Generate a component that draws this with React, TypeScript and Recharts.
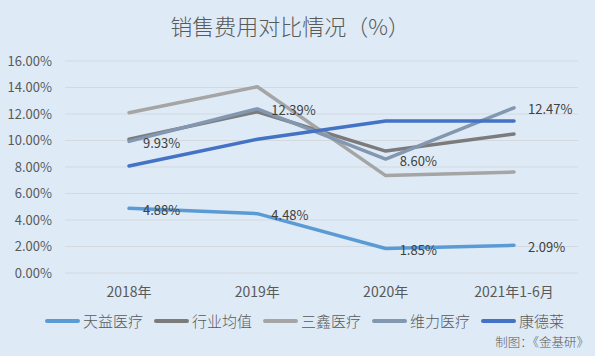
import React from 'react';
import { LineChart, Line, XAxis, YAxis, CartesianGrid, LabelList } from 'recharts';

const categories = ['2018年', '2019年', '2020年', '2021年1-6月'];
const tianyi = [4.88, 4.48, 1.85, 2.09];
const industryAvg = [10.09, 12.17, 9.2, 10.49];
const sanxin = [12.1, 14.06, 7.35, 7.62];
const weili = [9.93, 12.39, 8.6, 12.47];
const kangdelai = [8.08, 10.09, 11.47, 11.47];
const yTicks = [0, 2, 4, 6, 8, 10, 12, 14, 16];

const seriesNames = ['天益医疗', '行业均值', '三鑫医疗', '维力医疗', '康德莱'];
const seriesKeys = ['tianyi', 'industryAvg', 'sanxin', 'weili', 'kangdelai'];
const seriesColors = ['#5B9BD5', '#7B7B7B', '#A5A5A5', '#8497B0', '#4472C4'];

const data = categories.map((c, i) => ({
  name: c,
  tianyi: tianyi[i],
  industryAvg: industryAvg[i],
  sanxin: sanxin[i],
  weili: weili[i],
  kangdelai: kangdelai[i],
}));

const FONT = '"Noto Sans CJK SC", "Noto Sans", sans-serif';

const renderLabel = (props: any) => {
  const { x, y, value } = props;
  return (
    <text
      x={x + 14}
      y={y + 1}
      dominantBaseline="central"
      fontSize={13}
      fontFamily={FONT}
      fill="#404040"
    >
      {Number(value).toFixed(2)}%
    </text>
  );
};

export default function App() {
  return (
    <div
      style={{
        position: 'absolute',
        left: 0,
        top: 0,
        width: 595,
        height: 356,
        background: '#DEEBF7',
        fontFamily: FONT,
        overflow: 'hidden',
      }}
    >
      <div
        style={{
          position: 'absolute',
          left: 0,
          top: 14,
          width: 580,
          textAlign: 'center',
          fontSize: 22,
          lineHeight: '22px',
          fontWeight: 300,
          color: '#595959',
        }}
      >
        销售费用对比情况（%）
      </div>
      <LineChart
        width={595}
        height={356}
        data={data}
        margin={{ top: 61, right: 17, bottom: 53, left: 0 }}
        style={{ position: 'absolute', left: 0, top: 0 }}
      >
        <CartesianGrid horizontal vertical={false} stroke="#D4D9DF" strokeWidth={1} />
        <XAxis
          dataKey="name"
          axisLine={false}
          tickLine={false}
          tickSize={0}
          tickMargin={14}
          height={30}
          padding={{ left: 64, right: 64 }}
          tick={{ fontSize: 14, fill: '#595959', fontFamily: FONT }}
          interval={0}
        />
        <YAxis
          width={65}
          domain={[0, 16]}
          ticks={yTicks}
          axisLine={false}
          tickLine={false}
          tickSize={0}
          tickMargin={13}
          tickFormatter={(v: number) => `${v.toFixed(2)}%`}
          tick={{ fontSize: 13, fill: '#595959', fontFamily: FONT }}
        />
        {seriesKeys.map((k, i) => (
          <Line
            key={k}
            type="linear"
            dataKey={k}
            name={seriesNames[i]}
            stroke={seriesColors[i]}
            strokeWidth={3.5}
            strokeLinecap="round"
            strokeLinejoin="round"
            dot={false}
            activeDot={false}
            isAnimationActive={false}
          >
            {(k === 'tianyi' || k === 'weili') && (
              <LabelList dataKey={k} content={renderLabel} />
            )}
          </Line>
        ))}
      </LineChart>
      <div
        style={{
          position: 'absolute',
          left: 45,
          top: 311,
          display: 'flex',
          alignItems: 'center',
          gap: 11,
          fontSize: 15,
          lineHeight: '20px',
          fontWeight: 300,
          color: '#595959',
        }}
      >
        {seriesNames.map((n, i) => (
          <div key={n} style={{ display: 'flex', alignItems: 'center' }}>
            <svg width={35} height={6} style={{ marginRight: 3 }}>
              <line x1={2} y1={3} x2={33} y2={3} stroke={seriesColors[i]} strokeWidth={4} strokeLinecap="round" />
            </svg>
            <span>{n}</span>
          </div>
        ))}
      </div>
      <div
        style={{
          position: 'absolute',
          right: 6,
          top: 334,
          fontSize: 12.5,
          lineHeight: '15px',
          fontWeight: 300,
          color: '#595959',
        }}
      >
        制图：《金基研》
      </div>
    </div>
  );
}
